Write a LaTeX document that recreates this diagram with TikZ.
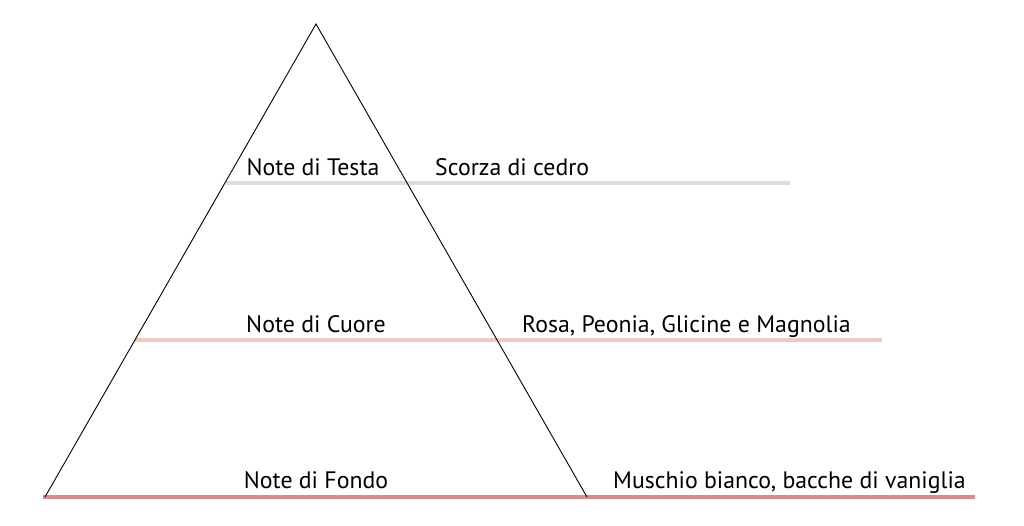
\documentclass[tikz,border=0pt]{standalone}
\usepackage{fontspec}
\setmainfont{PT Sans}
\definecolor{testa}{HTML}{D6DFDC}
\definecolor{cuore}{HTML}{EECBBD}
\definecolor{fondo}{HTML}{D98D8A}
\tikzset{
  layer/.style={line width=4pt},
  lbl/.style={font=\fontsize{23.8}{28}\selectfont, inner sep=0pt, anchor=base}
}
\begin{document}
\begin{tikzpicture}[x=1pt,y=-1pt]
  \useasboundingbox (0,0) rectangle (1024,525);
   % piramide
   \coordinate (top) at (316,24);
   \coordinate (bl) at (45,497);
   \coordinate (br) at (587,497);
   \draw[layer,testa] (226,183) coordinate (t1) -- (790,183) coordinate (t2);
   \draw[layer,cuore] (135,340) coordinate (c1) -- (882,340) coordinate (c2);
   \draw[layer,fondo] (43,497) coordinate (f1) -- (975,497) coordinate (f2);
   \draw[line width=0.9pt] (bl) -- (top) -- (br);
   % etichette
   \node[lbl] (testa) at (313,175) {Note di Testa};
   \node[lbl,anchor=base west] (testanote) at (435,175) {Scorza di cedro};
   \node[lbl] (cuore) at (316,332) {Note di Cuore};
   \node[lbl,anchor=base west] (cuorenote) at (522,332) {Rosa, Peonia, Glicine e Magnolia};
   \node[lbl] (fondo) at (316,488) {Note di Fondo};
   \node[lbl,anchor=base west] (fondonote) at (613,488) {Muschio bianco, bacche di vaniglia};
 \end{tikzpicture}
\end{document}
